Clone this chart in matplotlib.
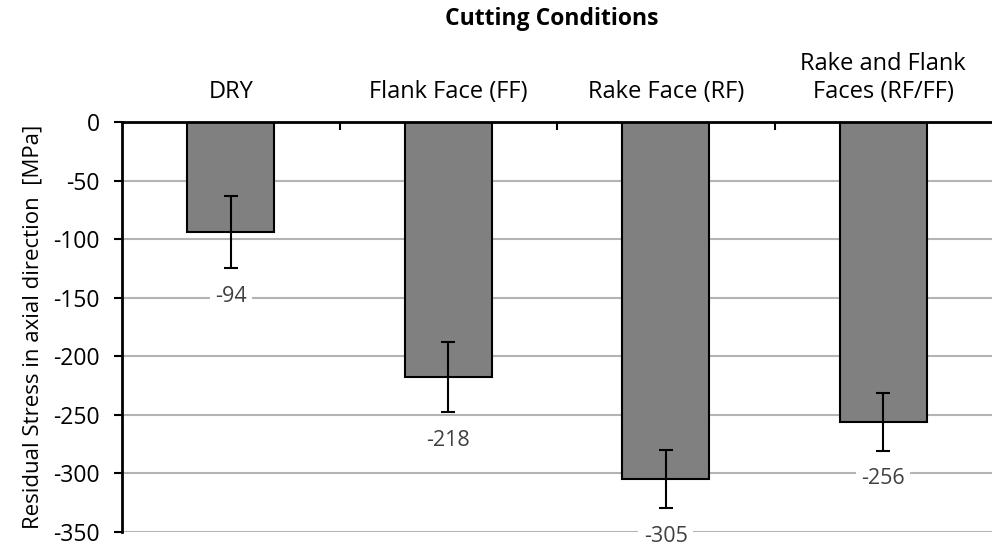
import matplotlib
matplotlib.use("Agg")
import matplotlib.pyplot as plt
import numpy as np

plt.rcParams["font.family"] = ["Open Sans", "DejaVu Sans"]
plt.rcParams["axes.unicode_minus"] = False

categories = ["DRY", "Flank Face (FF)", "Rake Face (RF)", "Rake and Flank\nFaces (RF/FF)"]
stress = [-94, -218, -305, -256]
errors = [31, 30, 25, 25]

fig = plt.figure(figsize=(9.92, 5.5), dpi=100)
ax = fig.add_axes([0.123, 0.033, 0.877, 0.745])

x = np.arange(len(categories))
ax.bar(x, stress, 0.4, color="#808080", edgecolor="black", linewidth=1.5, zorder=3)
ax.errorbar(x, stress, yerr=errors, fmt="none", ecolor="black", elinewidth=1.5,
            capsize=5, capthick=1.5, zorder=4)

for xi, v, e in zip(x, stress, errors):
    ax.annotate(f"{v}", (xi, v - e), xytext=(0, -20), textcoords="offset points",
                ha="center", va="center", fontsize=15.5, color="#404040", zorder=5,
                bbox=dict(boxstyle="square,pad=0.25", fc="white", ec="none"))

ax.set_xlim(-0.5, len(categories) - 0.5)
ax.set_ylim(-350, 0)
ax.set_yticks(np.arange(-350, 1, 50))
ax.yaxis.grid(True, color="#b4b4b4", linewidth=1.5, zorder=0)
ax.tick_params(axis="y", direction="out", length=6, width=1.5, labelsize=16.5, pad=10)

ax.xaxis.tick_top()
ax.set_xticks(x[:-1] + 0.5)
ax.set_xticklabels([])
ax.set_xticks(x, minor=True)
ax.set_xticklabels(categories, minor=True, fontsize=17, linespacing=1.25)
ax.tick_params(axis="x", which="major", direction="in", length=6, width=1.5)
ax.tick_params(axis="x", which="minor", length=0, pad=13)

for s in ["right", "bottom"]:
    ax.spines[s].set_visible(False)
for s in ["top", "left"]:
    ax.spines[s].set_linewidth(2)
    ax.spines[s].set_zorder(6)

ax.set_ylabel("Residual Stress in axial direction  [MPa]", fontsize=16, labelpad=7)
fig.text(0.556, 0.965, "Cutting Conditions", ha="center", va="center",
         fontsize=16.5, fontweight="bold")

fig.savefig("out.png", dpi=100)
